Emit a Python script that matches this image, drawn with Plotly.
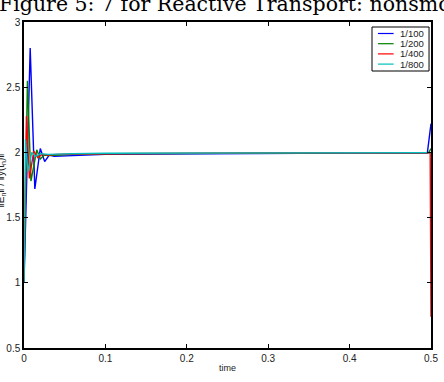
import plotly.graph_objects as go

# ---- data ----
labels = ["1/100", "1/200", "1/400", "1/800"]
colors = ["#0000ff", "#008000", "#ff0000", "#00bfbf"]

t_100 = [0.0, 0.0076, 0.0133, 0.0200, 0.0254, 0.031, 0.037, 0.045, 0.06, 0.1, 0.2, 0.3, 0.4, 0.4955, 0.5]
v_100 = [1.0, 2.80, 1.72, 2.03, 1.93, 1.98, 1.97, 1.97, 1.975, 1.985, 1.99, 1.993, 1.995, 1.995, 2.22]

t_200 = [0.0, 0.0042, 0.0085, 0.0157, 0.0200, 0.025, 0.03, 0.04, 0.06, 0.1, 0.2, 0.3, 0.4, 0.497, 0.5]
v_200 = [1.0, 2.55, 1.78, 2.02, 1.95, 1.98, 1.975, 1.98, 1.985, 1.99, 1.993, 1.995, 1.996, 1.996, 2.03]

t_400 = [0.0, 0.0030, 0.0066, 0.0120, 0.0170, 0.022, 0.03, 0.04, 0.06, 0.1, 0.2, 0.3, 0.4, 0.499, 0.5]
v_400 = [1.0, 2.28, 1.80, 2.01, 1.96, 1.985, 1.98, 1.985, 1.988, 1.99, 1.994, 1.996, 1.997, 1.997, 0.74]

t_800 = [0.0, 0.0018, 0.0048, 0.0095, 0.0145, 0.02, 0.03, 0.04, 0.06, 0.1, 0.2, 0.3, 0.4, 0.499, 0.5]
v_800 = [1.0, 2.10, 1.85, 2.00, 1.97, 1.99, 1.985, 1.988, 1.99, 1.993, 1.995, 1.997, 1.998, 1.998, 1.998]

x_ticks = [0, 0.1, 0.2, 0.3, 0.4, 0.5]
y_ticks = [0.5, 1, 1.5, 2, 2.5, 3]

series_t = [t_100, t_200, t_400, t_800]
series_v = [v_100, v_200, v_400, v_800]

W, H = 444, 382
ML, MR, MT, MB = 24, 6, 22, 34
PW, PH = W - ML - MR, H - MT - MB


def px(x):
    return (x - ML) / PW


def py(y):
    return (H - MB - y) / PH


fig = go.Figure()
for name, col, tt, vv in zip(labels, colors, series_t, series_v):
    fig.add_trace(go.Scatter(x=tt, y=vv, mode="lines", name=name,
                             line=dict(color=col, width=1.4), showlegend=False))

axis_common = dict(
    showgrid=False, zeroline=False, showline=True, linecolor="black", linewidth=1.5,
    mirror="ticks", ticks="inside", ticklen=4, tickcolor="black", tickwidth=1,
    tickfont=dict(family="Liberation Sans, Arial, sans-serif", size=10, color="#222"),
)

fig.update_layout(
    width=W, height=H,
    margin=dict(l=ML, r=MR, t=MT, b=MB),
    paper_bgcolor="white", plot_bgcolor="white",
    showlegend=False,
    xaxis=dict(range=[0, 0.5], tickvals=x_ticks, ticktext=["0", "0.1", "0.2", "0.3", "0.4", "0.5"],
               title=dict(text="time", font=dict(family="Liberation Sans, Arial, sans-serif", size=9, color="#222"), standoff=2),
               **axis_common),
    yaxis=dict(range=[0.5, 3], tickvals=y_ticks, ticktext=["0.5", "1", "1.5", "2", "2.5", "3"],
               **axis_common),
)

# manual compact legend (matplotlib style)
bx0, bx1, by0, by1 = 378, 436, 27, 71
fig.add_shape(type="rect", xref="paper", yref="paper",
              x0=px(bx0), x1=px(bx1), y0=py(by1), y1=py(by0),
              line=dict(color="black", width=1), fillcolor="white", layer="above")
for i, (name, col) in enumerate(zip(labels, colors)):
    yy = 33.5 + i * 10.2
    fig.add_shape(type="line", xref="paper", yref="paper",
                  x0=px(384), x1=px(400), y0=py(yy), y1=py(yy),
                  line=dict(color=col, width=1.2), layer="above")
    fig.add_annotation(text=name, xref="paper", yref="paper", x=px(404), y=py(yy),
                       xanchor="left", yanchor="middle", showarrow=False,
                       font=dict(family="Liberation Sans, Arial, sans-serif", size=9.5, color="#222"))

fig.add_annotation(text="Figure 5: 7 for Reactive Transport: nonsmooth",
                   xref="paper", yref="paper", x=px(-3), y=py(4),
                   xanchor="left", yanchor="middle", showarrow=False,
                   font=dict(family="DejaVu Serif, serif", size=20.5, color="black"))

fig.add_annotation(text="‖E<sub>n</sub>‖ / ‖y(t<sub>n</sub>)‖",
                   xref="paper", yref="paper", x=px(1), y=py(180),
                   xanchor="center", yanchor="middle", textangle=-90, showarrow=False,
                   font=dict(family="Liberation Sans, Arial, sans-serif", size=10, color="#222"))

fig.write_html("out.html")
